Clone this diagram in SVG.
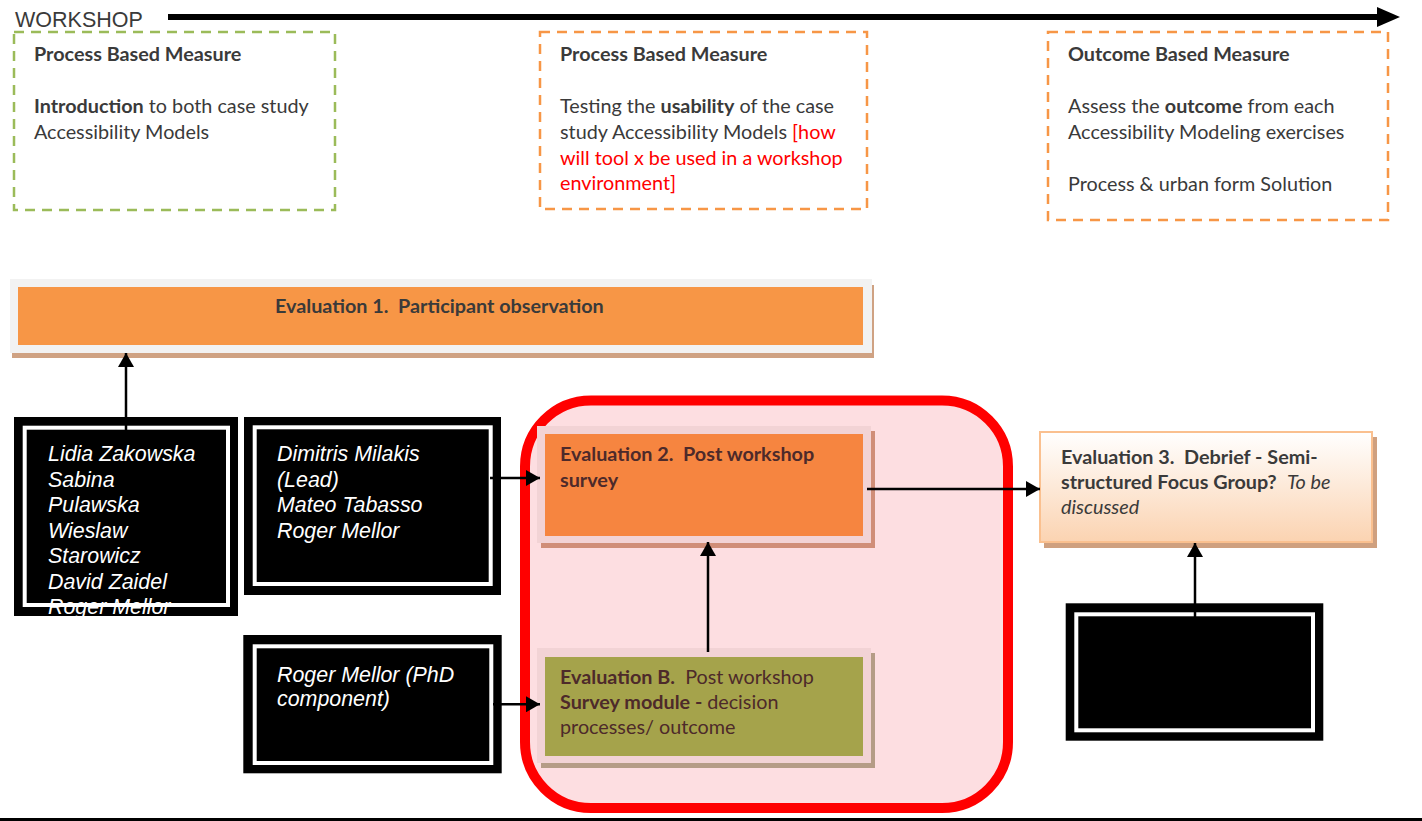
<svg xmlns="http://www.w3.org/2000/svg" width="1422" height="821" viewBox="0 0 1422 821">
<defs>
<style>
text{white-space:pre}
.t{font-family:Lato,"Open Sans","Liberation Sans",sans-serif;font-size:19.8px;fill:#3a3a3a}
.b{font-weight:bold}
.i{font-style:italic}
.red{fill:#ff0000}
.br{fill:#4d2a2a}
.w{font-family:"Liberation Sans",Arial,sans-serif;font-size:21.4px;font-style:italic;fill:#ffffff}
.dash{fill:none;stroke-width:2.5;stroke-dasharray:10 7}
.conn{stroke:#000;stroke-width:2.5;fill:none}
.blk{fill:#000}
.wb{fill:none;stroke:#fff;stroke-width:4}
</style>
<marker id="ah" markerWidth="14" markerHeight="16" viewBox="0 0 14 16" refX="14" refY="8" orient="auto" markerUnits="userSpaceOnUse">
<path d="M0,0 L14,8 L0,16 Z" fill="#000"/>
</marker>
<linearGradient id="g3" x1="0" y1="0" x2="0" y2="1">
<stop offset="0" stop-color="#ffffff"/>
<stop offset="1" stop-color="#fbd3b1"/>
</linearGradient>
</defs>
<rect width="1422" height="821" fill="#fff"/>

<g id="timeline">
<text x="15" y="27" font-family="Liberation Sans,Arial,sans-serif" font-size="21.5" fill="#3a3a3a">WORKSHOP</text>
<rect x="168" y="14" width="1212" height="6" fill="#000"/>
<path d="M1377,7 L1400,17 L1377,27 Z" fill="#000"/>
</g>

<g id="measure1">
<rect class="dash" x="14" y="32" width="321" height="178" stroke="#9bbb59"/>
<text class="t b" x="34" y="61">Process Based Measure</text>
<text class="t" x="34" y="113"><tspan class="b">Introduction</tspan> to both case study</text>
<text class="t" x="34" y="139">Accessibility Models</text>
</g>

<g id="measure2">
<rect class="dash" x="540" y="32" width="327" height="177" stroke="#f79646"/>
<text class="t b" x="560" y="61">Process Based Measure</text>
<text class="t" x="560" y="113">Testing the <tspan class="b">usability</tspan> of the case</text>
<text class="t" x="560" y="139">study Accessibility Models <tspan class="red">[how</tspan></text>
<text class="t red" x="560" y="165">will tool x be used in a workshop</text>
<text class="t red" x="560" y="190">environment]</text>
</g>

<g id="measure3">
<rect class="dash" x="1048" y="32" width="340" height="188" stroke="#f79646"/>
<text class="t b" x="1068" y="61">Outcome Based Measure</text>
<text class="t" x="1068" y="113">Assess the <tspan class="b">outcome</tspan> from each</text>
<text class="t" x="1068" y="139">Accessibility Modeling exercises</text>
<text class="t" x="1068" y="191">Process &amp; urban form Solution</text>
</g>

<g id="eval1">
<rect x="12" y="285" width="862" height="73" fill="#cfa283"/>
<rect x="10" y="279" width="862" height="74" fill="#f2f2f2"/>
<rect x="18" y="287" width="845" height="58" fill="#f79646"/>
<text class="t b" x="275" y="313">Evaluation 1.  Participant observation</text>
</g>

<g id="group">
<rect x="525" y="400.5" width="483" height="407.5" rx="66" ry="66" fill="#fddee1" stroke="#ff0000" stroke-width="10"/>
</g>

<g id="eval2">
<rect x="541" y="431" width="334" height="117" fill="#d08e78"/>
<rect x="537" y="426" width="334" height="117" fill="#f2d3d5"/>
<rect x="545" y="434" width="318" height="102" fill="#f68540"/>
<text class="t b br" x="560" y="461">Evaluation 2.  Post workshop</text>
<text class="t b br" x="560" y="487">survey</text>
</g>

<g id="evalB">
<rect x="541" y="653" width="334" height="115" fill="#b59c86"/>
<rect x="537" y="648" width="334" height="115" fill="#f2d3d5"/>
<rect x="545" y="657" width="318" height="99" fill="#a5a34b"/>
<text class="t br" x="560" y="684"><tspan class="b">Evaluation B.</tspan>  Post workshop</text>
<text class="t br" x="560" y="709"><tspan class="b">Survey module - </tspan>decision</text>
<text class="t br" x="560" y="734">processes/ outcome</text>
</g>

<g id="eval3">
<rect x="1044" y="437" width="333" height="111" fill="#cfa07f"/>
<rect x="1040" y="432" width="332" height="110" fill="url(#g3)" stroke="#fac08f" stroke-width="2"/>
<text class="t b" x="1061" y="464">Evaluation 3.  Debrief - Semi-</text>
<text class="t" x="1061" y="489"><tspan class="b">structured Focus Group?</tspan>  <tspan class="i">To be</tspan></text>
<text class="t i" x="1061" y="514">discussed</text>
</g>

<g id="team1">
<rect class="blk" x="14" y="417" width="224" height="199"/>
<text class="w" x="48" y="461">Lidia Zakowska</text>
<text class="w" x="48" y="486.5">Sabina</text>
<text class="w" x="48" y="512">Pulawska</text>
<text class="w" x="48" y="537.5">Wieslaw</text>
<text class="w" x="48" y="563">Starowicz</text>
<text class="w" x="48" y="588.5">David Zaidel</text>
<text class="w" x="48" y="614">Roger Mellor</text>
<rect class="wb" x="24.7" y="427.7" width="203.3" height="177.3"/>
</g>

<g id="team2">
<rect class="blk" x="244" y="417" width="257" height="178"/>
<rect class="wb" x="254.7" y="427.3" width="236" height="156.7"/>
<text class="w" x="277" y="461">Dimitris Milakis</text>
<text class="w" x="277" y="486.5">(Lead)</text>
<text class="w" x="277" y="512">Mateo Tabasso</text>
<text class="w" x="277" y="537.5">Roger Mellor</text>
</g>

<g id="team3">
<rect class="blk" x="243.3" y="635" width="258.4" height="138.3"/>
<rect class="wb" x="254.7" y="646.3" width="236.6" height="116.7"/>
<text class="w" x="277" y="681.7">Roger Mellor (PhD</text>
<text class="w" x="277" y="706">component)</text>
</g>

<g id="team4">
<rect class="blk" x="1065.7" y="603.3" width="257.6" height="137.4"/>
<rect class="wb" x="1076.3" y="614.3" width="236.7" height="116"/>
</g>

<g id="connectors">
<line class="conn" x1="126" y1="430" x2="126" y2="353" marker-end="url(#ah)"/>
<line class="conn" x1="490" y1="478" x2="540" y2="478" marker-end="url(#ah)"/>
<line class="conn" x1="493" y1="704.3" x2="540" y2="704.3" marker-end="url(#ah)"/>
<line class="conn" x1="708" y1="652" x2="708" y2="542" marker-end="url(#ah)"/>
<line class="conn" x1="867" y1="489" x2="1040" y2="489" marker-end="url(#ah)"/>
<line class="conn" x1="1195" y1="617" x2="1195" y2="543" marker-end="url(#ah)"/>
</g>

<rect x="0" y="818" width="1422" height="3" fill="#000"/>
</svg>
